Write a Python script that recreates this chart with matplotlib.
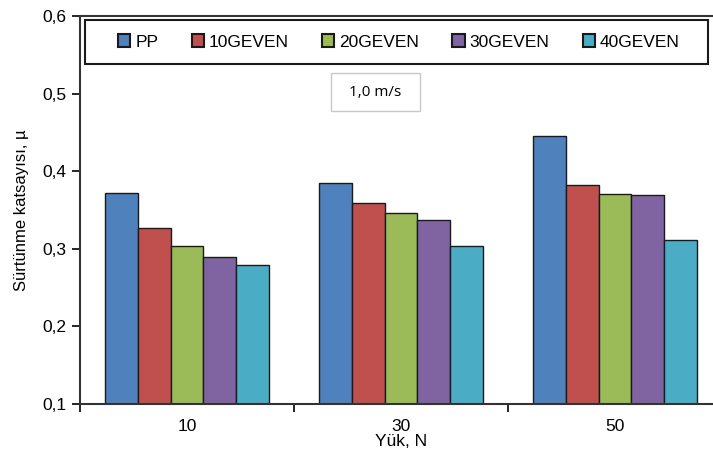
import numpy as np
import matplotlib.pyplot as plt
from matplotlib.patches import Rectangle

plt.rcParams['font.family'] = ['Liberation Sans', 'DejaVu Sans']

# Yük (N) gruplari ve numune serileri
loads = ["10", "30", "50"]
series_names = ["PP", "10GEVEN", "20GEVEN", "30GEVEN", "40GEVEN"]
pp = [0.372, 0.385, 0.445]
geven10 = [0.327, 0.359, 0.382]
geven20 = [0.303, 0.346, 0.371]
geven30 = [0.290, 0.337, 0.369]
geven40 = [0.279, 0.304, 0.311]
yticks = [0.1, 0.2, 0.3, 0.4, 0.5, 0.6]

colors = ["#4F81BD", "#C0504D", "#9BBB59", "#8064A2", "#4BACC6"]
all_series = [pp, geven10, geven20, geven30, geven40]

fig = plt.figure(figsize=(7.13, 4.62), dpi=100)
ax = fig.add_axes([80 / 713, 58 / 462, 642 / 713, 388 / 462])

centers = np.arange(len(loads)) + 0.5
bw = 0.154
handles = []
for i, (vals, c) in enumerate(zip(all_series, colors)):
    x = centers + (i - 2) * bw
    b = ax.bar(x, np.array(vals) - 0.1, bottom=0.1, width=bw, color=c,
               edgecolor="#1a1a1a", linewidth=1.0, label=series_names[i])
    handles.append(b)

ax.set_xlim(0, 3)
ax.set_ylim(0.1, 0.6)
ax.set_yticks(yticks)
ax.set_yticklabels([f"{t:.1f}".replace(".", ",") for t in yticks], fontsize=12.5)
ax.set_xticks(centers)
ax.set_xticklabels(loads, fontsize=12.5)
ax.set_xticks([0, 1, 2, 3], minor=True)
ax.tick_params(axis="x", which="major", length=0, pad=11)
ax.tick_params(axis="x", which="minor", length=6, width=1.2, direction="out")
ax.tick_params(axis="y", length=6, width=1.2, direction="out", pad=4)
for s in ax.spines.values():
    s.set_linewidth(1.5)
    s.set_color("#333333")

ax.set_ylabel("Sürtünme katsayısı, µ", fontsize=12, labelpad=9)
ax.set_xlabel("Yük, N", fontsize=12.5, labelpad=0)

# lejant: girdiler esit araliklarla, cerceve ayri ciziliyor
leg = ax.legend(handles=handles, loc="center left", ncol=5,
                bbox_to_anchor=(38 / 642, 1 - 26 / 388, 562 / 642, 0),
                mode="expand", fontsize=12.5, frameon=False,
                handlelength=0.7, handleheight=0.7, handletextpad=0.3,
                borderaxespad=0, borderpad=0, columnspacing=1.5)
for h in leg.legend_handles:
    h.set_edgecolor("#1a1a1a")
    h.set_linewidth(1.5)
ax.add_patch(Rectangle((5 / 642, 1 - 48 / 388), 623 / 642, 43.5 / 388,
                       transform=ax.transAxes, facecolor="none",
                       edgecolor="#1a1a1a", linewidth=1.5, zorder=5, clip_on=False))

# hiz kutusu
ax.add_patch(Rectangle((251 / 642, 1 - 95 / 388), 89 / 642, 38 / 388,
                       transform=ax.transAxes, facecolor="white",
                       edgecolor="#c8c8c8", linewidth=1.0, zorder=3))
ax.text(295.5 / 642, 1 - 76 / 388, "1,0 m/s", transform=ax.transAxes,
        ha="center", va="center", fontsize=11, family=["Open Sans", "DejaVu Sans"],
        zorder=4)

fig.savefig("out.png", dpi=100)
